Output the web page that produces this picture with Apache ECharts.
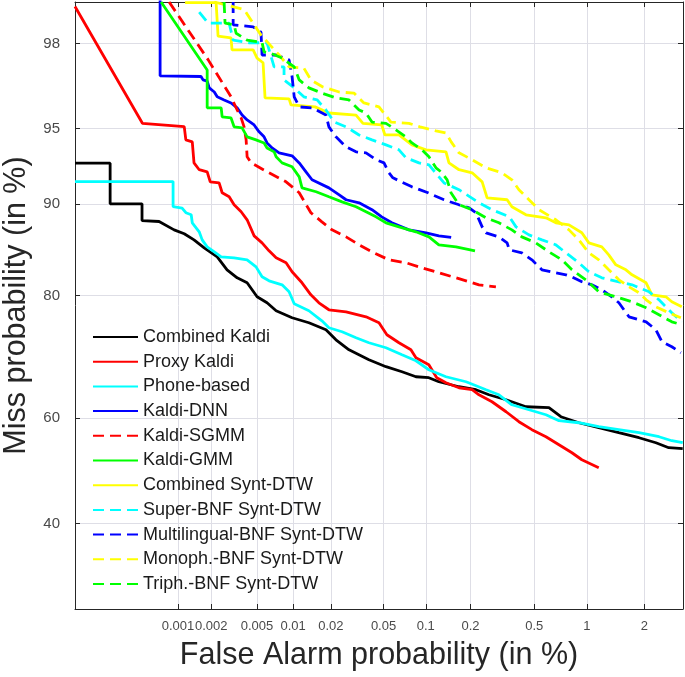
<!DOCTYPE html>
<html><head><meta charset="utf-8">
<script src="https://cdn.jsdelivr.net/npm/echarts@6/dist/echarts.min.js"></script>
<style>html,body{margin:0;padding:0;background:#fff}#c{width:685px;height:677px}</style>
</head><body><div id="c"></div>
<script>
// ---- Axis ticks (percent) ----
const xTicks = [0.001, 0.002, 0.005, 0.01, 0.02, 0.05, 0.1, 0.2, 0.5, 1, 2];
const xTickLabels = ['0.001', '0.002', '0.005', '0.01', '0.02', '0.05', '0.1', '0.2', '0.5', '1', '2'];
const yTicks = [40, 60, 80, 90, 95, 98];
const yTickLabels = ['40', '60', '80', '90', '95', '98'];
const xRange = [0.0001, 3.07];
const yRange = [25.3, 98.79];

// ---- Series names & colours ----
const seriesNames = ['Combined Kaldi', 'Proxy Kaldi', 'Phone-based', 'Kaldi-DNN', 'Kaldi-SGMM', 'Kaldi-GMM',
  'Combined Synt-DTW', 'Super-BNF Synt-DTW', 'Multilingual-BNF Synt-DTW', 'Monoph.-BNF Synt-DTW', 'Triph.-BNF Synt-DTW'];
const seriesColors = ['#000000', '#ff0000', '#00ffff', '#0000ff', '#ff0000', '#00ff00',
  '#ffff00', '#00ffff', '#0000ff', '#ffff00', '#00ff00'];
const seriesDashed = [false, false, false, false, true, false, false, true, true, true, true];

// ---- Data: [false alarm %, miss %] ----
const combinedKaldi = [[0.0001,93.04],[0.000225,93.04],[0.000225,90.03],[0.000459,90.03],[0.000459,88.55],[0.000666,88.46],[0.00092,87.66],[0.00114,87.27],[0.0014,86.65],[0.00173,85.81],[0.00226,84.81],[0.00276,83.30],[0.00338,82.32],[0.00412,81.69],[0.00501,79.85],[0.00608,79.03],[0.00724,77.91],[0.0098,76.90],[0.0134,76.16],[0.0183,75.10],[0.0219,73.55],[0.0276,71.95],[0.039,70.31],[0.0521,69.15],[0.068,68.29],[0.0854,67.43],[0.105,67.26],[0.123,66.56],[0.168,65.68],[0.217,65.15],[0.263,64.25],[0.337,63.35],[0.446,62.08],[0.61,61.90],[0.715,60.24],[0.903,59.12],[1.16,58.19],[1.48,57.25],[1.88,56.30],[2.28,55.35],[2.63,54.40],[3.06,54.21]];
const proxyKaldi = [[0.0001,98.72],[0.000463,95.26],[0.00114,95.10],[0.00118,94.42],[0.00135,94.31],[0.0014,93.06],[0.00156,92.61],[0.00184,92.47],[0.00196,91.76],[0.00235,91.68],[0.0025,90.93],[0.00288,90.61],[0.00318,89.95],[0.00366,89.35],[0.00412,88.62],[0.00473,87.06],[0.00552,86.34],[0.00632,85.48],[0.00724,84.70],[0.00875,84.13],[0.0098,83.06],[0.0118,81.69],[0.0139,80.12],[0.0161,79.03],[0.0193,78.05],[0.0262,77.76],[0.0371,77.04],[0.0463,76.16],[0.0529,74.34],[0.0647,73.08],[0.0787,71.95],[0.0854,70.65],[0.105,69.48],[0.119,67.26],[0.1375,66.38],[0.168,65.50],[0.205,65.15],[0.227,64.25],[0.275,62.99],[0.337,61.16],[0.404,59.31],[0.484,57.82],[0.586,56.49],[0.697,54.97],[0.826,53.44],[0.938,52.10],[1.16,50.57]];
const phoneBased = [[0.0001,91.78],[0.0009,91.78],[0.0009,89.80],[0.00109,89.67],[0.00118,89.26],[0.00132,89.08],[0.00135,88.34],[0.00156,87.47],[0.00166,86.65],[0.00184,85.91],[0.00213,85.37],[0.00245,84.81],[0.00318,84.70],[0.00412,84.47],[0.00491,83.65],[0.00552,82.44],[0.00632,81.94],[0.00811,81.43],[0.00926,80.52],[0.0102,78.89],[0.0134,77.91],[0.017,76.45],[0.0193,75.41],[0.0244,74.80],[0.0312,73.87],[0.039,73.08],[0.0521,72.28],[0.068,71.14],[0.0854,70.15],[0.105,68.63],[0.1375,67.43],[0.187,66.56],[0.252,65.15],[0.304,64.25],[0.366,62.44],[0.465,61.53],[0.586,60.61],[0.697,59.50],[0.903,59.12],[1.16,58.38],[1.48,57.82],[1.88,57.25],[2.36,56.49],[2.72,55.73],[3.06,55.35]];
const kaldiDNN = [[0.000681,99],[0.000681,97.12],[0.00162,97.10],[0.00169,96.99],[0.00184,96.95],[0.00192,96.72],[0.00213,96.57],[0.00226,96.39],[0.0026,96.27],[0.00299,96.15],[0.00338,95.95],[0.00373,95.64],[0.00412,95.42],[0.00473,95.18],[0.00521,94.84],[0.00574,94.58],[0.00608,94.25],[0.0067,93.97],[0.00766,93.68],[0.0098,93.50],[0.0112,93.06],[0.0127,92.47],[0.0142,91.91],[0.0193,91.31],[0.0232,90.77],[0.0262,90.37],[0.0329,90.12],[0.0411,89.53],[0.0485,88.89],[0.0575,88.34],[0.0762,87.66],[0.1004,87.37],[0.123,87.06],[0.149,86.91]];
const kaldiSGMM = [[0.000827,98.79],[0.00188,97.59],[0.00299,96.39],[0.00338,95.86],[0.00366,95.51],[0.00388,95.09],[0.00404,94.42],[0.00412,93.44],[0.00446,93.06],[0.00632,92.40],[0.00875,91.76],[0.0112,90.93],[0.0139,89.26],[0.017,88.43],[0.0204,87.66],[0.0262,86.96],[0.0329,86.13],[0.0411,85.37],[0.0547,84.47],[0.0726,84.13],[0.0942,83.53],[0.123,82.94],[0.1605,82.32],[0.196,81.82],[0.227,81.43],[0.291,81.17]];
const kaldiGMM = [[0.000696,98.79],[0.00184,97.30],[0.00184,95.95],[0.00245,95.95],[0.0025,95.56],[0.00299,95.51],[0.00318,95.09],[0.00373,95.04],[0.00412,94.58],[0.00491,94.42],[0.00574,94.25],[0.00608,93.97],[0.00697,93.74],[0.00724,93.44],[0.00811,93.06],[0.0098,92.81],[0.0112,92.12],[0.0118,91.31],[0.0153,91.01],[0.0193,90.61],[0.0244,90.20],[0.0312,89.78],[0.0371,89.35],[0.044,88.89],[0.0521,88.34],[0.0647,87.95],[0.0854,87.47],[0.1052,86.96],[0.123,86.13],[0.1605,85.91],[0.214,85.48]];
const combinedSyntDTW = [[0.00116,98.78],[0.00221,98.78],[0.0023,98.17],[0.00299,98.13],[0.00305,97.85],[0.00464,97.85],[0.00501,97.64],[0.00563,97.51],[0.00585,96.35],[0.00926,96.31],[0.00961,96.07],[0.015,95.99],[0.0193,95.73],[0.0312,95.64],[0.0352,95.26],[0.0485,95.18],[0.0512,94.68],[0.0647,94.68],[0.08,94.14],[0.1004,93.86],[0.1375,93.74],[0.144,93.06],[0.168,92.61],[0.205,92.40],[0.238,91.76],[0.256,90.53],[0.342,90.37],[0.366,89.78],[0.446,89.08],[0.586,88.80],[0.669,88.34],[0.795,88.14],[0.938,87.37],[1.025,86.34],[1.205,85.91],[1.312,85.04],[1.43,83.89],[1.613,83.30],[1.733,82.69],[2.04,81.69],[2.18,80.12],[2.55,79.85],[2.72,79.17],[3.03,78.47]];
const superBNF = [[0.00156,98.63],[0.00188,98.43],[0.00288,98.43],[0.00312,98.08],[0.00429,98.02],[0.00608,98.02],[0.00697,97.39],[0.00842,97.39],[0.00842,96.99],[0.0102,96.72],[0.0122,96.39],[0.0156,96.27],[0.0183,95.86],[0.0212,95.32],[0.0262,95.09],[0.0329,94.68],[0.0411,94.42],[0.0521,94.14],[0.0647,93.86],[0.0726,93.38],[0.0897,93.06],[0.1052,92.93],[0.1334,91.68],[0.168,91.17],[0.227,90.12],[0.275,89.53],[0.353,88.89],[0.388,87.95],[0.465,87.16],[0.555,86.65],[0.669,86.13],[0.764,85.26],[0.903,84.13],[1.025,83.06],[1.205,82.32],[1.483,81.82],[1.733,81.43],[2.11,80.52],[2.36,79.44],[2.72,77.62],[3.03,76.30]];
const multilingualBNF = [[0.00312,98.79],[0.00312,98.40],[0.00464,98.36],[0.00541,98.25],[0.00552,97.72],[0.00724,97.72],[0.00926,97.59],[0.0098,97.09],[0.0102,96.39],[0.0112,95.99],[0.0142,95.95],[0.0183,95.64],[0.0193,95.09],[0.0219,94.58],[0.0262,94.03],[0.0312,93.74],[0.0371,93.68],[0.044,93.26],[0.0504,93.06],[0.0547,92.40],[0.0585,92.05],[0.08,91.39],[0.1036,90.93],[0.1334,90.37],[0.168,89.95],[0.196,89.69],[0.217,89.26],[0.238,87.95],[0.252,87.37],[0.304,86.96],[0.342,86.34],[0.353,85.59],[0.421,85.26],[0.484,84.47],[0.555,83.30],[0.669,82.94],[0.764,82.69],[0.826,82.44],[0.938,81.82],[1.065,81.43],[1.205,80.78],[1.362,79.85],[1.483,79.03],[1.672,77.04],[2.04,76.30],[2.28,75.10],[2.44,73.24],[2.72,72.44],[3.0,71.47]];
const monophBNF = [[0.00213,98.79],[0.00388,98.67],[0.00541,98.19],[0.00766,97.72],[0.00926,97.39],[0.0122,97.36],[0.0139,96.99],[0.0173,96.75],[0.0232,96.57],[0.0301,96.53],[0.0358,96.15],[0.0463,95.99],[0.0529,95.56],[0.0566,95.32],[0.0762,95.26],[0.0912,95.09],[0.1175,94.89],[0.1375,94.78],[0.149,94.31],[0.168,93.68],[0.205,93.26],[0.252,92.74],[0.318,92.40],[0.366,91.91],[0.404,91.17],[0.465,90.37],[0.533,89.53],[0.669,88.62],[0.795,87.66],[0.903,86.65],[1.025,85.26],[1.161,84.47],[1.312,83.30],[1.483,82.07],[1.672,81.17],[1.88,80.39],[2.04,79.44],[2.28,78.47],[2.63,77.62],[3.0,76.90]];
const triphBNF = [[0.0026,98.79],[0.00265,98.43],[0.00318,98.40],[0.00331,98.23],[0.00412,98.08],[0.00552,98.03],[0.00574,97.80],[0.00644,97.77],[0.00811,97.64],[0.0102,97.39],[0.0112,96.99],[0.0134,96.72],[0.017,96.53],[0.0219,96.35],[0.0276,96.27],[0.0329,95.86],[0.0371,95.73],[0.0411,95.32],[0.0521,95.26],[0.0615,94.94],[0.0726,94.58],[0.08,94.25],[0.0942,93.86],[0.1052,93.44],[0.1175,92.74],[0.1272,92.47],[0.14,91.91],[0.1486,90.93],[0.168,89.95],[0.205,89.53],[0.252,88.80],[0.304,88.34],[0.366,87.66],[0.421,86.96],[0.511,86.34],[0.61,85.37],[0.725,84.47],[0.826,83.30],[0.987,82.07],[1.161,80.52],[1.43,79.85],[1.733,79.17],[2.04,78.33],[2.36,77.34],[2.72,76.30],[3.03,75.86]];

const seriesData = [combinedKaldi, proxyKaldi, phoneBased, kaldiDNN, kaldiSGMM, kaldiGMM,
  combinedSyntDTW, superBNF, multilingualBNF, monophBNF, triphBNF];

// normal deviate (DET axis warping)
function probit(p) {
  const a=[-3.969683028665376e+01,2.209460984245205e+02,-2.759285104469687e+02,1.383577518672690e+02,-3.066479806614716e+01,2.506628277459239e+00];
  const b=[-5.447609879822406e+01,1.615858368580409e+02,-1.556989798598866e+02,6.680131188771972e+01,-1.328068155288572e+01];
  const c=[-7.784894002430293e-03,-3.223964580411365e-01,-2.400758277161838e+00,-2.549732539343734e+00,4.374664141464968e+00,2.938163982698783e+00];
  const d=[7.784695709041462e-03,3.224671290700398e-01,2.445134137142996e+00,3.754408661907416e+00];
  const pl = 0.02425, ph = 1 - pl;
  let q, r;
  if (p < pl) { q = Math.sqrt(-2*Math.log(p)); return (((((c[0]*q+c[1])*q+c[2])*q+c[3])*q+c[4])*q+c[5])/((((d[0]*q+d[1])*q+d[2])*q+d[3])*q+1); }
  if (p <= ph) { q = p - 0.5; r = q*q; return (((((a[0]*r+a[1])*r+a[2])*r+a[3])*r+a[4])*r+a[5])*q/(((((b[0]*r+b[1])*r+b[2])*r+b[3])*r+b[4])*r+1); }
  q = Math.sqrt(-2*Math.log(1-p)); return -(((((c[0]*q+c[1])*q+c[2])*q+c[3])*q+c[4])*q+c[5])/((((d[0]*q+d[1])*q+d[2])*q+d[3])*q+1);
}
const pz = v => probit(v / 100);
const xTickVals = xTicks.map(pz);
const yTickVals = yTicks.map(pz);
function labelFor(vals, labels) {
  return v => { let bi = 0, bd = Infinity; vals.forEach((t, i) => { const dd = Math.abs(t - v); if (dd < bd) { bd = dd; bi = i; } }); return labels[bi]; };
}
const FONT = '"Liberation Sans", Arial, Helvetica, sans-serif';
const boxColor = '#262626';
const gridColor = '#dedee6';

const chart = echarts.init(document.getElementById('c'), null, { renderer: 'canvas' });
chart.setOption({
  animation: false,
  backgroundColor: '#ffffff',
  textStyle: { fontFamily: FONT },
  grid: { left: 75, right: 2, top: 2, bottom: 68, containLabel: false, outerBoundsMode: 'none' },
  xAxis: [{
    type: 'value', position: 'bottom', min: pz(xRange[0]), max: pz(xRange[1]),
    axisLine: { show: true, onZero: false, lineStyle: { color: boxColor, width: 1 } },
    axisTick: { show: true, inside: true, length: 5, customValues: xTickVals, lineStyle: { color: boxColor } },
    axisLabel: { show: true, customValues: xTickVals, formatter: labelFor(xTickVals, xTickLabels), fontSize: 13, color: '#4a4a4a', margin: 11, fontFamily: FONT, hideOverlap: false, showMinLabel: true, showMaxLabel: true },
    splitLine: { show: true, lineStyle: { color: gridColor, width: 1 } },
    name: 'False Alarm probability (in %)', nameLocation: 'middle', nameGap: 31,
    nameTextStyle: { fontSize: 30.5, color: '#262626', fontFamily: FONT }
  }, {
    type: 'value', position: 'top', min: pz(xRange[0]), max: pz(xRange[1]),
    axisLine: { show: true, onZero: false, lineStyle: { color: boxColor, width: 1 } },
    axisTick: { show: true, inside: true, length: 5, customValues: xTickVals, lineStyle: { color: boxColor } },
    axisLabel: { show: false }, splitLine: { show: false }
  }],
  yAxis: [{
    type: 'value', position: 'left', min: pz(yRange[0]), max: pz(yRange[1]),
    axisLine: { show: true, onZero: false, lineStyle: { color: boxColor, width: 1 } },
    axisTick: { show: true, inside: true, length: 5, customValues: yTickVals, lineStyle: { color: boxColor } },
    axisLabel: { show: true, customValues: yTickVals, formatter: labelFor(yTickVals, yTickLabels), fontSize: 15, color: '#4a4a4a', margin: 15, fontFamily: FONT, hideOverlap: false },
    splitLine: { show: true, lineStyle: { color: gridColor, width: 1 } },
    name: 'Miss probability (in %)', nameLocation: 'middle', nameGap: 43,
    nameTextStyle: { fontSize: 30.5, color: '#262626', fontFamily: FONT }
  }, {
    type: 'value', position: 'right', min: pz(yRange[0]), max: pz(yRange[1]),
    axisLine: { show: true, onZero: false, lineStyle: { color: boxColor, width: 1 } },
    axisTick: { show: true, inside: true, length: 5, customValues: yTickVals, lineStyle: { color: boxColor } },
    axisLabel: { show: false }, splitLine: { show: false }
  }],
  legend: {
    orient: 'vertical', left: 92, top: 327, padding: 0,
    itemWidth: 45, itemHeight: 14, itemGap: 4.7,
    itemStyle: { opacity: 0, borderWidth: 0 },
    textStyle: { fontSize: 18, color: '#1a1a1a', lineHeight: 20, fontFamily: FONT },
    data: seriesNames
  },
  series: seriesNames.map((name, i) => ({
    name, type: 'line', xAxisIndex: 0, yAxisIndex: 0,
    data: seriesData[i].map(([x, y]) => [pz(x), pz(y)]),
    symbol: 'none', showSymbol: false, clip: true,
    lineStyle: { color: seriesColors[i], width: 2.8, type: seriesDashed[i] ? [11, 6] : 'solid' },
    itemStyle: { color: seriesColors[i] },
    emphasis: { disabled: true }
  }))
});
</script></body></html>
